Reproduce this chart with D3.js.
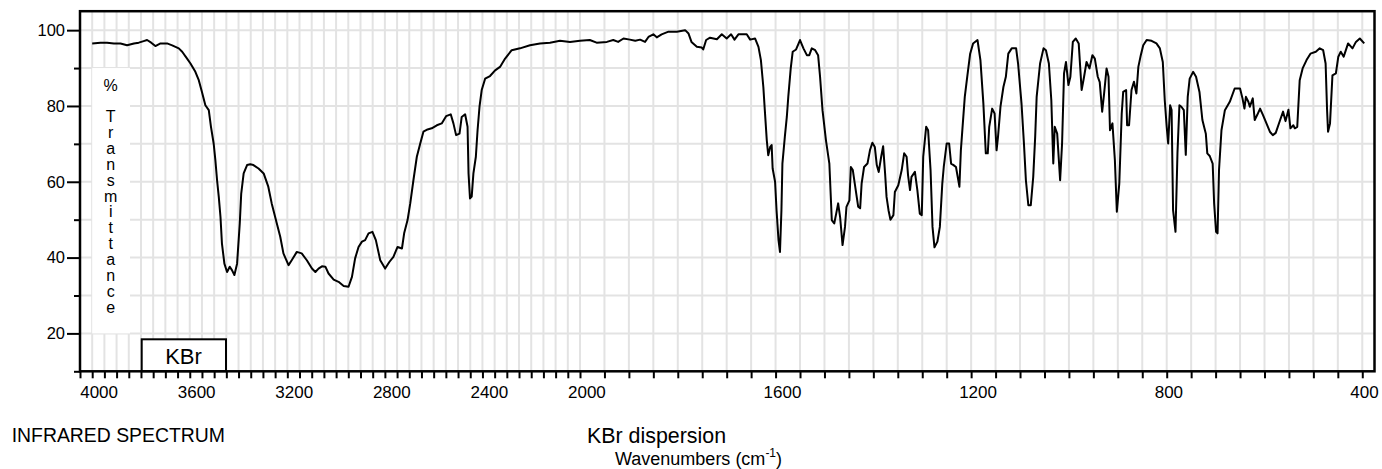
<!DOCTYPE html>
<html>
<head>
<meta charset="utf-8">
<script src="https://cdn.jsdelivr.net/npm/d3@7"></script>
<style>
  body { margin: 0; background: #fff; }
  svg { display: block; font-family: "Liberation Sans", Arial, sans-serif; }
</style>
</head>
<body>
<svg id="chart"></svg>
<script>
// спектр: волновые числа (см-1) и пропускание (%)
const wavenumbers = [
  4000, 3966, 3939, 3911, 3884, 3857, 3829, 3809, 3789, 3775, 3758, 3741, 3720, 3693, 3672, 3645,
  3631, 3611, 3597, 3577, 3563, 3550, 3536, 3522, 3513, 3502, 3495, 3488, 3481, 3474, 3468, 3458,
  3447, 3436, 3427, 3417, 3406, 3395, 3389, 3379, 3365, 3352, 3339, 3318, 3297, 3278, 3264, 3243,
  3229, 3216, 3195, 3182, 3161, 3141, 3120, 3099, 3085, 3072, 3058, 3044, 3031, 3010, 2990,
  2969, 2949, 2935, 2922, 2908, 2894, 2881, 2867, 2851, 2837, 2819, 2799, 2781, 2765, 2748, 2730,
  2721, 2707, 2696, 2683, 2669, 2655, 2642, 2625, 2608, 2587, 2567, 2549, 2530, 2519, 2508, 2494,
  2485, 2471, 2461, 2457, 2451, 2444, 2437, 2427, 2420, 2412, 2403, 2389, 2369, 2348, 2328, 2307,
  2280, 2246, 2205, 2164, 2123, 2082, 2041, 2000, 1980, 1966,
  1945, 1932, 1922, 1911, 1898, 1887, 1877, 1867, 1860, 1850, 1843, 1833, 1819, 1802, 1785, 1778,
  1772, 1761, 1751, 1748, 1742, 1734, 1720, 1710, 1700, 1691, 1684, 1676, 1659, 1652, 1642, 1635,
  1630, 1625, 1622, 1618, 1615, 1611, 1608, 1606, 1601, 1598, 1594, 1591, 1588, 1586, 1581, 1577,
  1574, 1569, 1565, 1558, 1550, 1543, 1536, 1531, 1526, 1519, 1513, 1509, 1504, 1497, 1490, 1485,
  1480, 1476, 1472, 1468, 1463, 1458, 1455, 1449, 1446, 1442, 1438, 1431,
  1427, 1424, 1419, 1412, 1407, 1402, 1397, 1393, 1389, 1384, 1380, 1376, 1373, 1369, 1365, 1359,
  1356, 1349, 1342, 1337, 1332, 1329, 1325, 1322, 1315, 1310, 1305, 1301, 1298, 1292, 1288, 1283,
  1279, 1275, 1269, 1264, 1259, 1256, 1250, 1245, 1241, 1236, 1231, 1224, 1221, 1217, 1213, 1208,
  1202, 1196, 1187, 1181, 1175, 1170, 1166, 1163, 1157, 1152, 1148, 1145, 1140, 1134, 1129, 1124,
  1117, 1108, 1104, 1097, 1092, 1088, 1083, 1078, 1073, 1069, 1066, 1059, 1052, 1047, 1041, 1036,
  1032, 1029, 1024, 1018, 1014, 1010, 1006, 1001, 997, 992, 986, 980, 974, 969, 964, 958,
  952, 947, 941, 937, 932, 928, 923, 919, 916, 911, 906, 902, 897,
  892, 889, 883, 881, 877, 872, 867, 862, 858, 853, 848, 841, 831, 821, 814, 808,
  804, 800, 797, 793, 790, 787, 782, 778, 774, 770, 765, 761, 757, 753, 746, 740,
  733, 727, 720, 717, 712, 706, 703, 699, 696, 693, 688, 681, 671, 661, 650, 645,
  641, 638, 633, 630, 624, 620, 615, 609, 603, 596, 589, 583, 577, 568, 562, 557,
  551, 547, 541, 538, 533, 528, 522, 514, 506, 495, 487, 480, 475, 472, 470, 466,
  461, 454, 449, 444, 438, 429, 420, 413, 405, 396
];
const transmittance = [
  96.5, 96.7, 96.7, 96.5, 96.5, 96.0, 96.5, 96.7, 97.1, 97.4, 96.7, 95.8, 96.5, 96.5, 96.0, 95.2,
  94.3, 92.5, 91.2, 89.0, 86.8, 83.7, 80.2, 78.9, 74.5, 70.1, 65.7, 60.4, 56.0, 50.7, 43.7, 38.4,
  36.2, 37.6, 36.7, 35.4, 38.4, 49.0, 56.9, 62.2, 64.4, 64.6, 64.4, 63.5, 62.2, 58.7, 54.3, 49.0,
  45.5, 41.1, 38.0, 39.3, 41.5, 41.1, 39.3, 37.1, 36.2, 37.1, 37.7, 37.6, 35.8, 34.2, 33.6,
  32.5, 32.3, 34.9, 39.8, 42.8, 44.2, 44.6, 46.4, 46.8, 44.6, 39.3, 37.1, 38.9, 40.2, 42.8, 42.4,
  46.4, 49.9, 54.3, 60.4, 66.6, 70.1, 73.2, 73.8, 74.1, 74.9, 75.4, 77.3, 77.8, 75.4, 72.3, 72.7,
  77.1, 77.8, 74.5, 62.2, 55.6, 56.1, 62.2, 66.6, 73.6, 79.8, 84.2, 87.2, 87.9, 89.4, 90.3, 92.5,
  94.7, 95.2, 96.0, 96.5, 96.7, 97.2, 96.9, 97.2, 97.4, 96.7,
  96.9, 97.4, 96.9, 97.8, 97.5, 97.2, 97.5, 96.9, 98.2, 98.9, 98.1, 98.9, 99.6, 99.6, 100.0, 99.1,
  96.9, 95.6, 95.4, 94.9, 97.4, 98.0, 97.6, 98.9, 97.8, 98.9, 97.5, 98.9, 98.9, 97.5, 97.8, 95.6,
  92.1, 85.0, 78.9, 71.0, 67.0, 69.2, 69.7, 63.5, 60.0, 52.5, 44.6, 41.5, 52.5, 64.8, 71.9, 77.1,
  82.4, 89.9, 94.3, 94.9, 97.4, 95.2, 93.4, 93.4, 95.2, 94.7, 93.4, 87.7, 78.9, 71.0, 64.8, 49.9,
  49.0, 51.6, 54.3, 50.7, 43.3, 48.1, 53.4, 55.1, 63.9, 63.1, 59.5, 53.4,
  53.0, 59.5, 63.9, 64.8, 68.3, 70.3, 69.2, 64.4, 62.6, 66.6, 69.4, 62.2, 56.0, 52.5, 50.0, 51.2,
  57.3, 59.1, 63.1, 67.5, 66.6, 61.7, 57.8, 61.3, 62.6, 57.8, 51.6, 51.2, 66.6, 74.5, 73.6, 63.1,
  48.1, 42.7, 44.2, 48.1, 59.5, 63.9, 70.1, 70.1, 64.8, 64.4, 63.9, 58.7, 68.3, 75.4, 82.4, 87.7,
  93.8, 96.5, 97.4, 92.1, 80.7, 67.5, 67.5, 74.5, 79.3, 78.0, 68.3, 71.9, 79.8, 85.0, 87.7, 93.8,
  95.2, 95.2, 91.2, 80.7, 70.1, 60.4, 53.8, 53.8, 61.3, 71.9, 82.4, 91.2, 95.2, 94.7, 91.2, 81.5,
  64.8, 74.5, 72.7, 60.4, 70.1, 88.6, 91.6, 85.5, 87.7, 96.9, 97.8, 96.5, 84.2, 87.7, 91.6, 89.9,
  93.4, 92.5, 87.7, 86.3, 78.5, 83.3, 89.9, 87.7, 73.6, 75.4, 65.7, 52.1, 59.5,
  78.0, 83.7, 84.2, 74.9, 74.9, 84.2, 86.4, 83.3, 90.3, 93.4, 96.0, 97.4, 97.2, 96.5, 95.2, 91.6,
  81.5, 74.5, 70.1, 80.2, 78.9, 52.5, 46.8, 67.5, 80.2, 79.8, 78.9, 67.1, 82.4, 87.2, 89.0, 87.7,
  83.7, 76.3, 72.7, 67.5, 66.8, 64.8, 54.3, 46.8, 46.4, 63.1, 73.6, 78.9, 81.1, 84.6, 84.6, 82.0,
  79.3, 82.4, 81.1, 79.8, 82.0, 76.3, 77.6, 79.3, 77.6, 75.4, 73.2, 72.3, 72.9, 76.3, 78.5, 76.0,
  79.0, 74.1, 74.9, 74.1, 74.5, 86.8, 89.9, 92.1, 93.8, 94.3, 95.2, 94.7, 91.2, 78.9, 73.2, 75.4,
  88.1, 88.6, 93.0, 94.3, 93.0, 96.5, 95.2, 96.9, 97.8, 96.5
];

// подписи осей
const xTickLabels = [4000, 3600, 3200, 2800, 2400, 2000, 1600, 1200, 800, 400];
const yTickLabels = [20, 40, 60, 80, 100];
const yMinorTicks = [10, 30, 50, 70, 90];
const yTitleLetters = ["T", "r", "a", "n", "s", "m", "i", "t", "t", "a", "n", "c", "e"];

document.addEventListener("DOMContentLoaded", function() {
    const width = 1382;
    const height = 469;
    const svg = d3.select("#chart")
        .attr("width", width)
        .attr("height", height);

    // шкала с растяжением ниже 2000
    const x = d3.scaleLinear()
        .domain([4050, 2000, 375])
        .range([80, 580, 1374.5]);
    const y = d3.scaleLinear()
        .domain([10, 105])
        .range([371.3, 11.2]);

    // сетка
    const grid = svg.append("g")
        .attr("stroke", "#e3e3e3")
        .attr("stroke-width", 2);
    grid.selectAll("line.v")
        .data(d3.range(4000, 399, -50))
        .join("line")
        .attr("class", "v")
        .attr("x1", d => x(d)).attr("x2", d => x(d))
        .attr("y1", y(105)).attr("y2", y(10));
    grid.selectAll("line.h")
        .data(d3.range(20, 101, 10))
        .join("line")
        .attr("class", "h")
        .attr("x1", x(4050)).attr("x2", x(375))
        .attr("y1", d => y(d)).attr("y2", d => y(d));

    // белая подложка под подписью оси Y
    svg.append("rect")
        .attr("x", x(4000))
        .attr("y", y(90))
        .attr("width", x(3845) - x(4000))
        .attr("height", y(20) - y(90))
        .attr("fill", "#fff");

    // рамка KBr
    svg.append("rect")
        .attr("x", 141.7)
        .attr("y", 339.3)
        .attr("width", 84.3)
        .attr("height", y(10) - 339.3)
        .attr("fill", "#fff")
        .attr("stroke", "#000")
        .attr("stroke-width", 2);
    svg.append("text")
        .attr("x", 183.5)
        .attr("y", 364)
        .attr("text-anchor", "middle")
        .attr("font-size", 22)
        .text("KBr");

    // спектр
    const line = d3.line()
        .x(d => x(d[0]))
        .y(d => y(d[1]));
    svg.append("path")
        .datum(d3.zip(wavenumbers, transmittance))
        .attr("d", line)
        .attr("fill", "none")
        .attr("stroke", "#000")
        .attr("stroke-width", 2)
        .attr("stroke-linejoin", "round");

    // рамка графика
    svg.append("rect")
        .attr("x", x(4050))
        .attr("y", y(105))
        .attr("width", x(375) - x(4050))
        .attr("height", y(10) - y(105))
        .attr("fill", "none")
        .attr("stroke", "#000")
        .attr("stroke-width", 2.5);

    // ось Y
    const yAxis = svg.append("g")
        .attr("transform", `translate(${x(4050)},0)`)
        .call(d3.axisLeft(y).tickValues(yTickLabels).tickSize(13).tickPadding(2));
    svg.append("g")
        .attr("transform", `translate(${x(4050)},0)`)
        .call(d3.axisLeft(y).tickValues(yMinorTicks).tickSize(6).tickFormat(""))
        .call(g => g.select(".domain").remove());
    yAxis.select(".domain").remove();
    svg.selectAll(".tick line").attr("stroke-width", 2);
    yAxis.selectAll("text")
        .attr("font-size", 16.5)
        .attr("font-family", "Liberation Sans, Arial, sans-serif")
        .attr("fill", "#000");

    // ось X
    const xAxis = svg.append("g")
        .attr("transform", `translate(0,${y(10)})`)
        .call(d3.axisBottom(x).tickValues(d3.range(4050, 399, -50)).tickSize(7).tickFormat(""));
    xAxis.select(".domain").remove();
    xAxis.selectAll(".tick line").attr("stroke-width", 2);
    svg.append("g")
        .selectAll("text")
        .data(xTickLabels)
        .join("text")
        .attr("x", d => x(d) - 12)
        .attr("y", y(10) + 27)
        .attr("font-size", 17)
        .text(d => d);

    // подпись оси Y буквами столбиком
    svg.append("text")
        .attr("x", 110.7)
        .attr("y", 91)
        .attr("text-anchor", "middle")
        .attr("font-size", 16)
        .text("%");
    svg.append("g")
        .selectAll("text")
        .data(yTitleLetters)
        .join("text")
        .attr("x", 110.7)
        .attr("y", (d, i) => 122 + i * 15.9)
        .attr("text-anchor", "middle")
        .attr("font-size", 16)
        .text(d => d);

    // подписи внизу
    svg.append("text")
        .attr("x", 11.7)
        .attr("y", 441.7)
        .attr("font-size", 19.4)
        .text("INFRARED SPECTRUM");
    svg.append("text")
        .attr("x", 587)
        .attr("y", 442.7)
        .attr("font-size", 21.4)
        .text("KBr dispersion");
    const wn = svg.append("text")
        .attr("x", 615)
        .attr("y", 465)
        .attr("font-size", 18);
    wn.append("tspan").text("Wavenumbers (cm");
    wn.append("tspan").attr("dy", -8).attr("font-size", 12).text("-1");
    wn.append("tspan").attr("dy", 8).text(")");
})
</script>
</body>
</html>
